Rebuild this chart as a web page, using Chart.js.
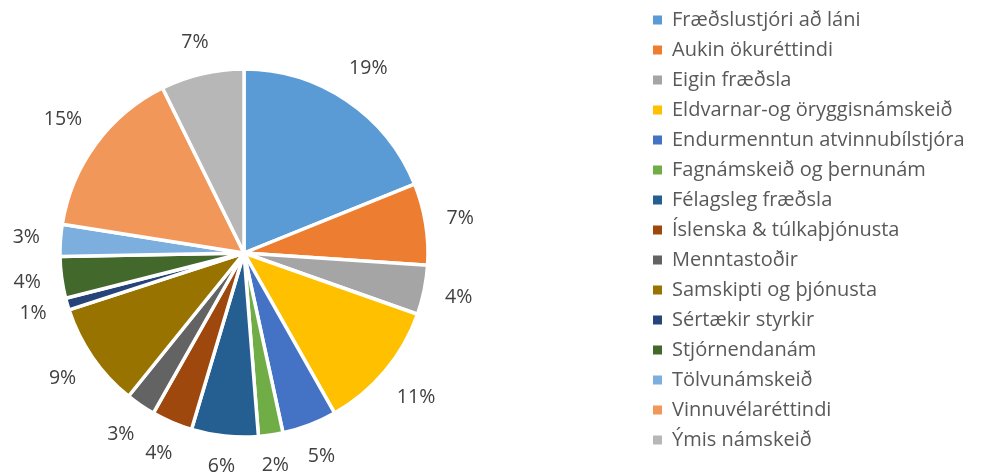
<!DOCTYPE html>
<html>
<head>
<meta charset="utf-8">
<script src="https://cdn.jsdelivr.net/npm/chart.js@4.4.1/dist/chart.umd.min.js"></script>
<style>
  html, body { margin: 0; padding: 0; background: #fff; overflow: hidden; }
  #wrap { position: relative; width: 984px; height: 476px; overflow: hidden; }
  #box { position: absolute; top: 0; }
</style>
</head>
<body>
<div id="wrap"><div id="box"><canvas id="pie"></canvas></div></div>
<script>
// categories and their share (%)
const categories = [
    'Fræðslustjóri að láni',
    'Aukin ökuréttindi',
    'Eigin fræðsla',
    'Eldvarnar-og öryggisnámskeið',
    'Endurmenntun atvinnubílstjóra',
    'Fagnámskeið og þernunám',
    'Félagsleg fræðsla',
    'Íslenska & túlkaþjónusta',
    'Menntastoðir',
    'Samskipti og þjónusta',
    'Sértækir styrkir',
    'Stjórnendanám',
    'Tölvunámskeið',
    'Vinnuvélaréttindi',
    'Ýmis námskeið'
];
const shares = [18.9, 7.15, 4.35, 11.4, 4.8, 2.15, 5.85, 3.6, 2.6, 9.2, 1.05, 3.65, 2.8, 15.2, 7.3];
const sliceColors = [
    '#5B9BD5', '#ED7D31', '#A5A5A5', '#FFC000', '#4472C4',
    '#70AD47', '#255E91', '#9E480E', '#636363', '#997300',
    '#264478', '#43682B', '#7CAFDD', '#F1975A', '#B7B7B7'
];

const FONT = '"Open Sans"';
const FONT_SIZE = 20;
const pieCenterX = 244;
const pieCenterY = 253;
const pieRadius = 184;
const legendLeft = 643;

// percent labels outside each slice
const pctLabels = {
    id: 'pctLabels',
    afterDatasetsDraw(chart) {
        const ctx = chart.ctx;
        const meta = chart.getDatasetMeta(0);
        const total = shares.reduce((a, b) => a + b, 0);
        ctx.save();
        ctx.font = '19.5px ' + FONT;
        ctx.fillStyle = '#404040';
        ctx.textAlign = 'center';
        ctx.textBaseline = 'middle';
        meta.data.forEach((arc, i) => {
            const p = arc.getProps(['x', 'y', 'startAngle', 'endAngle', 'outerRadius'], true);
            const mid = (p.startAngle + p.endAngle) / 2;
            const txt = Math.round(shares[i] / total * 100) + '%';
            const w = ctx.measureText(txt).width;
            const c = Math.cos(mid), s = Math.sin(mid);
            const d = p.outerRadius + 20 + Math.abs(c) * w / 2 + Math.abs(s) * 9;
            ctx.fillText(txt, p.x + c * d, p.y + s * d);
        });
        ctx.restore();
    }
};

function build() {
    // the canvas is wider than the page and shifted left so the pie sits
    // where the reference has it, with the legend on the right
    const m = document.createElement('canvas').getContext('2d');
    m.font = FONT_SIZE + 'px ' + FONT;
    const maxText = Math.max(...categories.map(t => m.measureText(t).width));
    const legendPad = 30 - FONT_SIZE;
    const legendW = legendPad + 9 + FONT_SIZE / 2 + maxText + legendPad;
    const shift = legendLeft - 2 * pieCenterX;
    const canvasW = 1300, canvasH = 2 * pieCenterY;
    const box = document.getElementById('box');
    box.style.left = (-shift) + 'px';
    box.style.width = canvasW + 'px';
    box.style.height = canvasH + 'px';
    const padRight = canvasW - (legendLeft + shift) - legendW;

    new Chart(document.getElementById('pie'), {
        type: 'pie',
        data: {
            labels: categories,
            datasets: [{
                data: shares,
                backgroundColor: sliceColors,
                borderColor: '#ffffff',
                borderWidth: 3.5,
                radius: pieRadius
            }]
        },
        options: {
            responsive: true,
            maintainAspectRatio: false,
            animation: false,
            layout: { padding: { left: 0, right: padRight, top: 0, bottom: 0 } },
            plugins: {
                tooltip: { enabled: false },
                legend: {
                    position: 'right',
                    align: 'start',
                    labels: {
                        color: '#595959',
                        font: { family: FONT, size: FONT_SIZE },
                        boxWidth: 9,
                        boxHeight: 9,
                        padding: legendPad,
                        generateLabels(chart) {
                            const base = Chart.overrides.pie.plugins.legend.labels.generateLabels(chart);
                            return base.map(l => ({ ...l, lineWidth: 0, strokeStyle: l.fillStyle }));
                        }
                    }
                }
            }
        },
        plugins: [pctLabels]
    });
}

if (document.fonts && document.fonts.load) {
    document.fonts.load(FONT_SIZE + 'px ' + FONT).then(build, build);
} else {
    build();
}
</script>
</body>
</html>
